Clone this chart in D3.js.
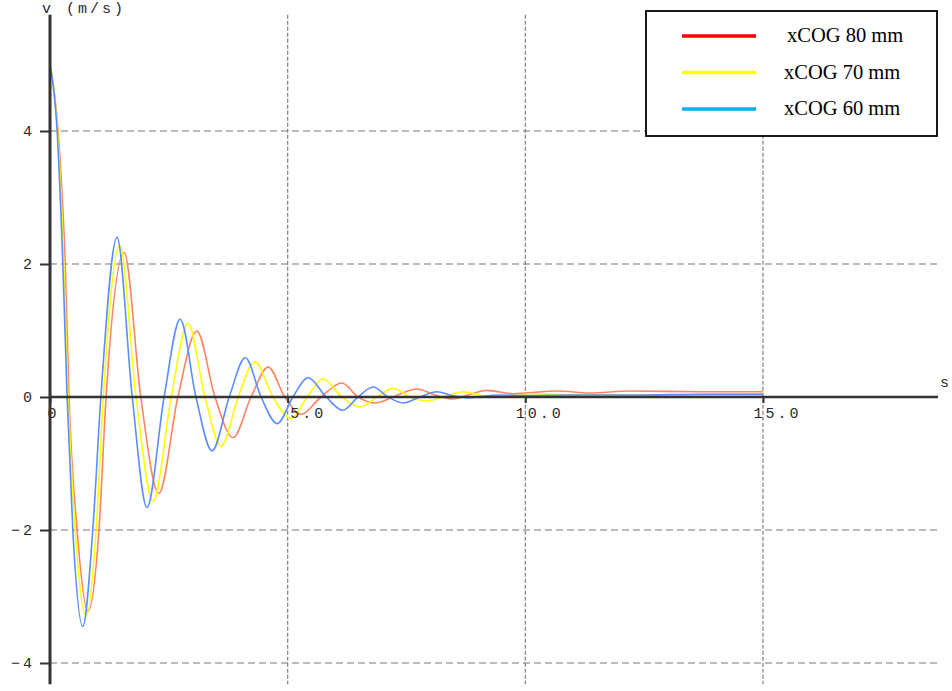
<!DOCTYPE html>
<html>
<head>
	<meta charset="utf-8">
	<title>v (m/s) - xCOG</title>
	<script src="https://d3js.org/d3.v7.min.js"></script>
	<style>
		body { margin: 0; background: #fff; }
		.tick text, .lbl { font-family: "Liberation Mono", "DejaVu Sans Mono", monospace; font-size: 15px; fill: #2a2a2a; letter-spacing: 3px; }
	</style>
</head>
<body>
	<script type="text/javascript">

		// data: [t (s), v (m/s)]
		var seriesNames = ["xCOG 80 mm", "xCOG 70 mm", "xCOG 60 mm"];
		var lineColors = ["#ff8462", "#ffff00", "#5b8dff"];
		var legendColors = ["#ff0000", "#ffff00", "#00b0f0"];

		var cog80 = [
			[0, 5.0], [0.17, 4.0], [0.32, 2.0], [0.40, 0], [0.57, -2.0], [0.80, -3.22], [1.03, -2.0],
			[1.18, 0], [1.56, 2.17], [1.91, 0], [2.29, -1.45], [2.69, 0], [3.09, 0.99], [3.47, 0],
			[3.85, -0.61], [4.23, 0], [4.59, 0.45], [4.94, 0], [5.28, -0.26], [5.70, 0], [6.14, 0.21],
			[6.48, 0], [6.84, -0.09], [7.28, 0.02], [7.72, 0.12], [8.10, 0.03], [8.48, -0.03],
			[8.84, 0.04], [9.19, 0.10], [9.74, 0.05], [10.67, 0.09], [11.36, 0.06], [12.20, 0.09],
			[13.68, 0.08], [15.0, 0.08]
		];

		var cog70 = [
			[0, 5.0], [0.16, 4.0], [0.29, 2.0], [0.38, 0], [0.53, -2.0], [0.76, -3.3], [0.97, -2.0],
			[1.12, 0], [1.47, 2.28], [1.81, 0], [2.17, -1.57], [2.55, 0], [2.90, 1.11], [3.26, 0],
			[3.60, -0.74], [3.96, 0], [4.31, 0.53], [4.69, 0], [5.07, -0.32], [5.41, 0], [5.74, 0.27],
			[6.14, 0], [6.52, -0.15], [6.88, 0], [7.22, 0.13], [7.57, 0], [7.93, -0.06], [8.31, 0.01],
			[8.69, 0.08], [9.15, 0.01], [9.57, 0.0], [10.1, 0.05], [11.15, 0.03], [12.62, 0.03],
			[15.0, 0.05]
		];

		var cog60 = [
			[0, 5.0], [0.15, 4.0], [0.27, 2.0], [0.36, 0], [0.48, -2.0], [0.69, -3.45], [0.90, -2.0],
			[1.07, 0], [1.41, 2.4], [1.73, 0], [2.04, -1.66], [2.40, 0], [2.74, 1.17], [3.07, 0],
			[3.41, -0.81], [3.77, 0], [4.11, 0.59], [4.44, 0], [4.78, -0.40], [5.11, 0], [5.43, 0.29],
			[5.81, 0], [6.16, -0.20], [6.48, 0], [6.80, 0.15], [7.11, 0], [7.43, -0.09], [7.78, 0],
			[8.14, 0.08], [8.46, 0.02], [8.77, -0.01], [9.47, 0.03], [10.0, 0.02], [10.94, 0.03],
			[12.41, 0.03], [13.68, 0.04], [15.0, 0.04]
		];

		var xTicks = [0, 5, 10, 15];
		var xTickLabels = ["0", "5.0", "10.0", "15.0"];
		var yTicks = [-4, -2, 0, 2, 4];
		var xEnd = 18.68;    // where the time axis stops
		var yTop = 5.75;     // top of the v axis
		var yBottom = -4.32; // bottom of the v axis

		var width = 952;
		var height = 691;

		var xScale = d3.scaleLinear().domain([0, 15]).range([50, 763]);
		var yScale = d3.scaleLinear().domain([-4, 4]).range([663, 131]);

		var canvas = d3.select("body").append("svg")
			.attr("width", width)
			.attr("height", height);

		// grid
		canvas.selectAll("line.vgrid")
			.data(xTicks.filter(function (d) { return d != 0; }))
			.enter()
				.append("line")
				.attr("class", "vgrid")
				.attr("x1", function (d) { return xScale(d); })
				.attr("x2", function (d) { return xScale(d); })
				.attr("y1", yScale(yTop))
				.attr("y2", yScale(yBottom))
				.attr("stroke", "#888")
				.attr("stroke-width", 1.3)
				.attr("stroke-dasharray", "4,2");

		canvas.selectAll("line.hgrid")
			.data(yTicks.filter(function (d) { return d != 0; }))
			.enter()
				.append("line")
				.attr("class", "hgrid")
				.attr("x1", xScale(0))
				.attr("x2", xScale(xEnd))
				.attr("y1", function (d) { return yScale(d); })
				.attr("y2", function (d) { return yScale(d); })
				.attr("stroke", "#777")
				.attr("stroke-width", 1.2)
				.attr("stroke-dasharray", "7,4");

		// curves
		var line = d3.line()
			.x(function (d) { return xScale(d[0]); })
			.y(function (d) { return yScale(d[1]); })
			.curve(d3.curveMonotoneX);

		canvas.selectAll("path.curve")
			.data([cog80, cog70, cog60])
			.enter()
				.append("path")
				.attr("class", "curve")
				.attr("d", line)
				.attr("fill", "none")
				.attr("stroke", function (d, i) { return lineColors[i]; })
				.attr("stroke-width", 1.6);

		// axes
		var xAxis = d3.axisBottom(xScale)
			.tickValues(xTicks)
			.tickSize(6)
			.tickFormat(function (d, i) { return xTickLabels[i]; });

		var gx = canvas.append("g")
			.attr("transform", "translate(0," + yScale(0) + ")")
			.call(xAxis);
		gx.select(".domain").remove();
		gx.selectAll(".tick line").attr("stroke", "#333").attr("stroke-width", 2);
		gx.selectAll(".tick text")
			.attr("text-anchor", function (d) { return d == 0 ? "middle" : "end"; })
			.attr("x", function (d) { return d == 0 ? 3 : 38; })
			.attr("y", 10);

		var yAxis = d3.axisLeft(yScale)
			.tickValues(yTicks)
			.tickSize(10)
			.tickPadding(5)
			.tickFormat(d3.format("d"));

		var gy = canvas.append("g")
			.attr("transform", "translate(" + xScale(0) + ",0)")
			.call(yAxis);
		gy.select(".domain").remove();
		gy.selectAll(".tick line").attr("stroke", "#333").attr("stroke-width", 2);

		canvas.append("line")
			.attr("x1", xScale(0)).attr("x2", xScale(xEnd))
			.attr("y1", yScale(0)).attr("y2", yScale(0))
			.attr("stroke", "#333")
			.attr("stroke-width", 2.5);

		canvas.append("line")
			.attr("x1", xScale(0)).attr("x2", xScale(0))
			.attr("y1", yScale(yTop)).attr("y2", yScale(yBottom))
			.attr("stroke", "#333")
			.attr("stroke-width", 3);

		canvas.append("text")
			.attr("class", "lbl")
			.attr("x", 42)
			.attr("y", 13)
			.text("v (m/s)");

		canvas.append("text")
			.attr("class", "lbl")
			.attr("x", 940)
			.attr("y", 387)
			.text("s");

		// legend
		var legend = canvas.append("g");

		legend.append("rect")
			.attr("x", 646)
			.attr("y", 11)
			.attr("width", 291)
			.attr("height", 125)
			.attr("fill", "#fff")
			.attr("stroke", "#000")
			.attr("stroke-width", 1.8);

		legend.selectAll("line")
			.data(seriesNames)
			.enter()
				.append("line")
				.attr("x1", 682)
				.attr("x2", 756)
				.attr("y1", function (d, i) { return 36 + i * 36.5; })
				.attr("y2", function (d, i) { return 36 + i * 36.5; })
				.attr("stroke", function (d, i) { return legendColors[i]; })
				.attr("stroke-width", 3.5);

		legend.selectAll("text")
			.data(seriesNames)
			.enter()
				.append("text")
				.attr("x", function (d, i) { return i == 0 ? 787 : 784; })
				.attr("y", function (d, i) { return 42 + i * 36.5; })
				.attr("font-family", "Liberation Serif, Times New Roman, serif")
				.attr("font-size", "20.5px")
				.attr("fill", "#000")
				.text(function (d) { return d; });

	</script>
</body>
</html>
